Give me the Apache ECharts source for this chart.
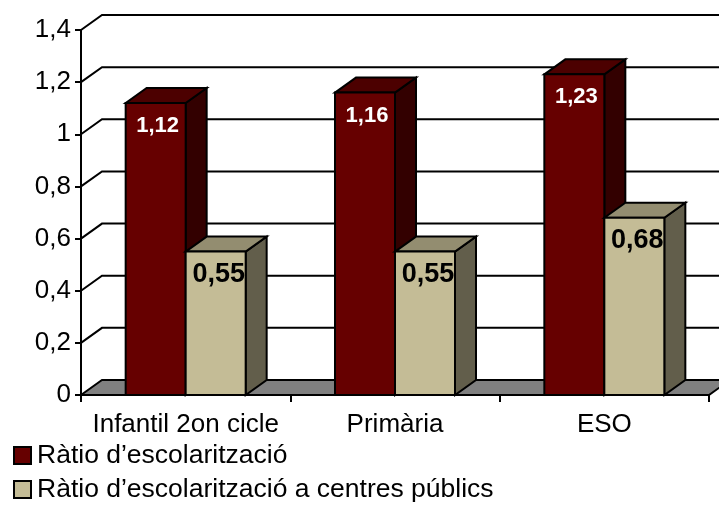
<!DOCTYPE html>
<html>
<head>
<meta charset="utf-8">
<style>html,body{margin:0;padding:0;background:#fff}#main{width:719px;height:512px}</style>
<script src="https://cdn.jsdelivr.net/npm/echarts@6/dist/echarts.min.js"></script>
</head>
<body>
<div id="main"></div>
<script>
var categories = ['Infantil 2on cicle', 'Primària', 'ESO'];
var ratio = [1.12, 1.16, 1.23];
var ratioPublic = [0.55, 0.55, 0.68];
var yTicks = [0, 0.2, 0.4, 0.6, 0.8, 1, 1.2, 1.4];
var seriesNames = ['Ràtio d’escolarització', 'Ràtio d’escolarització a centres públics'];

var font = '"Liberation Sans", Arial, sans-serif';
var dx = 21, dy = -15;
var barShare = 60 / 209.33;

function comma(v) {
    return String(v).replace('.', ',');
}

function pts(list) {
    return { points: list };
}

// 3d column: front, top and side faces, side = -1 left of band centre, 1 right of it
function barRenderer(side, front, top, right, labelColor, labelSize, labelDx, labelDy) {
    return function (params, api) {
        var base = api.coord([api.value(0), 0]);
        var head = api.coord([api.value(0), api.value(1)]);
        var w = api.size([1, 0])[0] * barShare;
        var x0 = side < 0 ? base[0] - w : base[0];
        var x1 = x0 + w;
        var y0 = base[1], y1 = head[1];
        var line = { stroke: '#000', lineWidth: 2, lineJoin: 'miter' };
        return {
            type: 'group',
            children: [
                { type: 'polygon', shape: pts([[x1, y1], [x1 + dx, y1 + dy], [x1 + dx, y0 + dy], [x1, y0]]), style: Object.assign({ fill: right }, line) },
                { type: 'polygon', shape: pts([[x0, y1], [x0 + dx, y1 + dy], [x1 + dx, y1 + dy], [x1, y1]]), style: Object.assign({ fill: top }, line) },
                { type: 'rect', shape: { x: x0, y: y1, width: w, height: y0 - y1 }, style: Object.assign({ fill: front }, line) },
                { type: 'text', style: {
                    x: (x0 + x1) / 2 + labelDx, y: y1 + labelDy,
                    text: comma(api.value(1)), fill: labelColor,
                    font: 'bold ' + labelSize + 'px ' + font,
                    align: 'center', verticalAlign: 'middle'
                } }
            ]
        };
    };
}

function wallRenderer(params, api) {
    var g = params.coordSys;
    var p = api.coord([0, api.value(0)]);
    var left = g.x, right = g.x + g.width;
    var line = { stroke: '#000', lineWidth: 2, fill: 'none' };
    var children = [];
    if (api.value(0) === 0) {
        children.push({ type: 'polygon', shape: pts([[left, p[1]], [left + dx, p[1] + dy], [right + dx, p[1] + dy], [right, p[1]]]), style: { fill: '#808080', stroke: '#000', lineWidth: 2 } });
    } else {
        children.push({ type: 'polyline', shape: pts([[left, p[1]], [left + dx, p[1] + dy], [right + dx, p[1] + dy]]), style: line });
    }
    return { type: 'group', children: children };
}

var myChart = echarts.init(document.getElementById('main'), null, { renderer: 'canvas' });
var option = {
    animation: false,
    backgroundColor: '#fff',
    grid: { left: 81, right: 10, top: 30, bottom: 117, containLabel: false },
    xAxis: {
        type: 'category',
        data: categories,
        axisLine: { lineStyle: { color: '#000', width: 2 } },
        axisTick: { show: true, alignWithLabel: false, length: 7, lineStyle: { color: '#000', width: 2 } },
        axisLabel: { color: '#000', fontFamily: font, fontSize: 26, margin: 17, interval: 0 },
        z: 10
    },
    yAxis: {
        type: 'value',
        min: 0,
        max: 1.4,
        interval: 0.2,
        splitLine: { show: false },
        axisLine: { show: true, lineStyle: { color: '#000', width: 2 } },
        axisTick: { show: true, length: 6, lineStyle: { color: '#000', width: 2 } },
        axisLabel: { color: '#000', fontFamily: font, fontSize: 26, margin: 10, padding: [4, 0, 0, 0], formatter: comma },
        z: 10
    },
    legend: {
        data: seriesNames,
        orient: 'vertical',
        left: 13,
        top: 442,
        height: 70,
        padding: 0,
        itemWidth: 17,
        itemHeight: 17,
        itemGap: 7,
        icon: 'rect',
        textStyle: { color: '#000', fontFamily: font, fontSize: 26.5, padding: [6, 0, 0, 1] }
    },
    series: [
        {
            type: 'custom',
            name: 'walls',
            data: yTicks.map(function (v) { return [v]; }),
            encode: { y: 0 },
            renderItem: wallRenderer,
            clip: false,
            z: 1
        },
        {
            type: 'custom',
            name: seriesNames[0],
            data: ratio.map(function (v, i) { return [i, v]; }),
            encode: { x: 0, y: 1 },
            itemStyle: { color: '#660000', borderColor: '#000', borderWidth: 2 },
            renderItem: barRenderer(-1, '#660000', '#4c0000', '#330000', '#fff', 22, 2, 23),
            clip: false,
            z: 2
        },
        {
            type: 'custom',
            name: seriesNames[1],
            data: ratioPublic.map(function (v, i) { return [i, v]; }),
            encode: { x: 0, y: 1 },
            itemStyle: { color: '#c4bc96', borderColor: '#000', borderWidth: 2 },
            renderItem: barRenderer(1, '#c4bc96', '#938d70', '#625e4b', '#000', 27, 3, 23),
            clip: false,
            z: 3
        }
    ]
};
option && myChart.setOption(option);
</script>
</body>
</html>
